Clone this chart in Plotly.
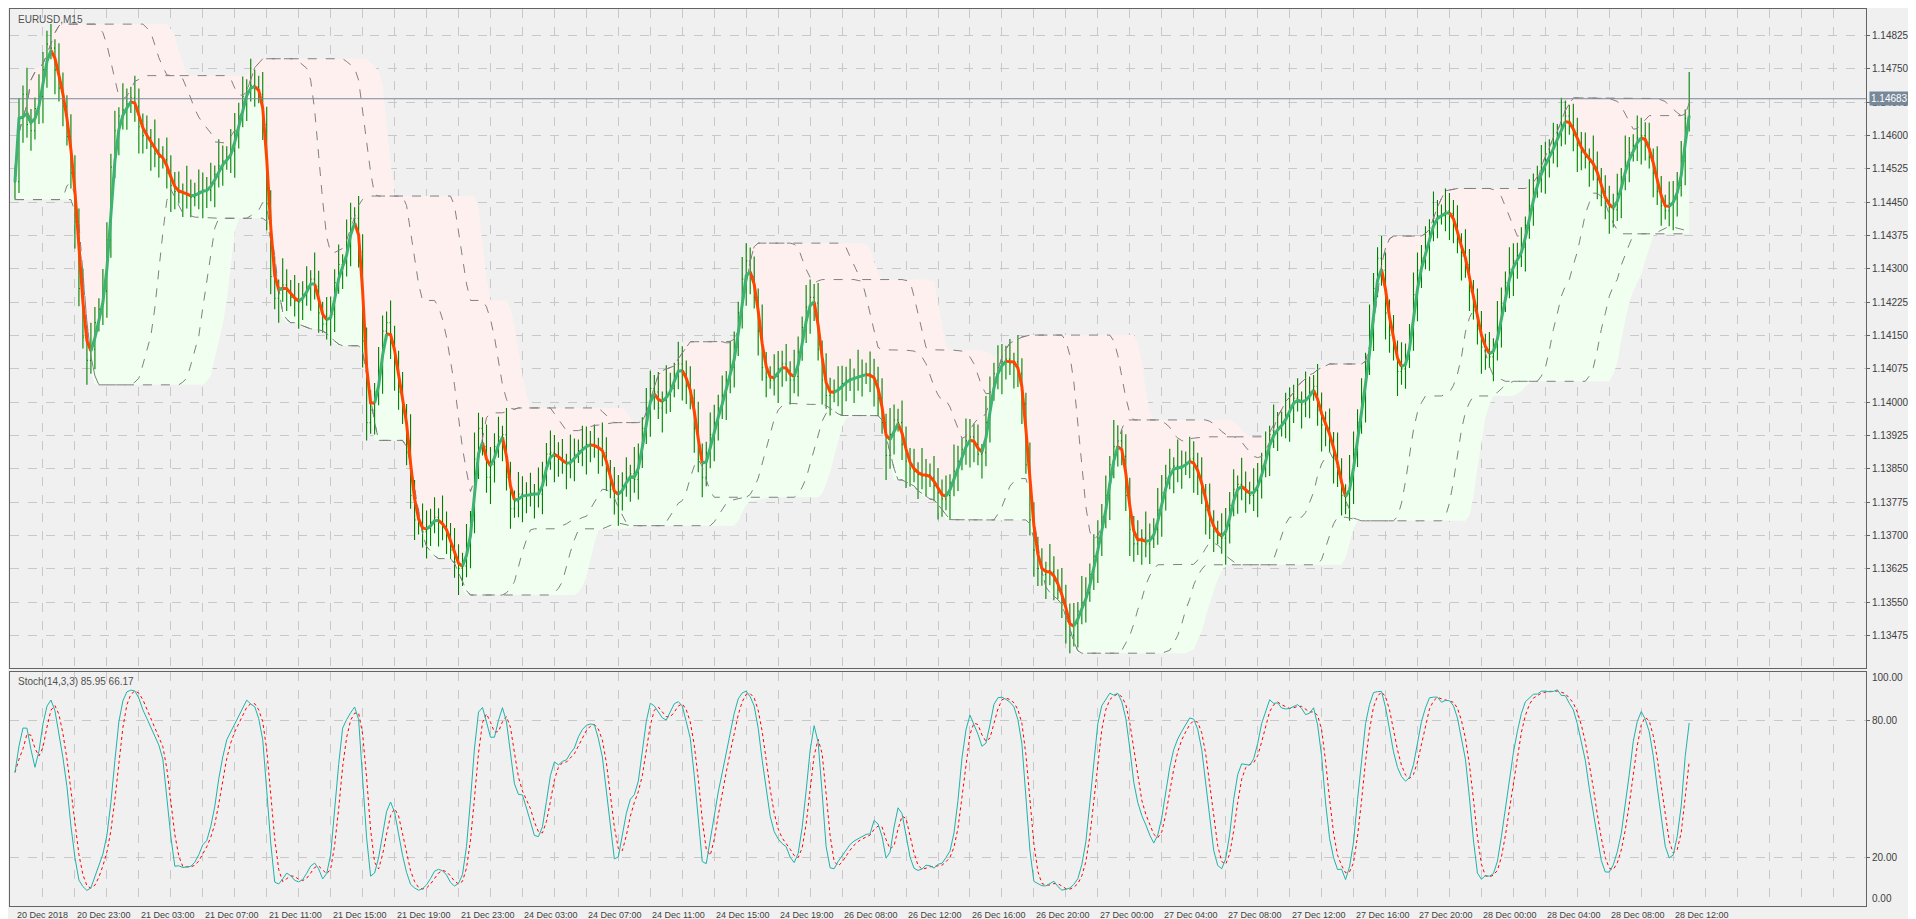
import numpy as np
import pandas as pd
import plotly.graph_objects as go

symbol_title = "EURUSD,M15"
stoch_title = "Stoch(14,3,3) 85.95 66.17"
last_price = 1.14683

# closes, in points above 1.13000
close_pts = [
1496,1639,1693,1625,1611,1661,1688,1748,1806,1797,
1748,1707,1666,1598,1516,1406,1256,1146,1094,1119,
1179,1209,1250,1365,1529,1611,1644,1658,1671,1685,
1666,1620,1600,1595,1576,1559,1551,1546,1516,1488,
1474,1472,1472,1466,1461,1469,1474,1477,1477,1494,
1513,1532,1543,1551,1565,1611,1644,1688,1707,1713,
1710,1693,1625,1447,1283,1234,1256,1264,1250,1236,
1228,1225,1242,1261,1277,1261,1201,1176,1187,1198,
1269,1310,1313,1351,1414,1414,1338,1138,954,982,
1023,1064,1160,1179,1132,1086,1023,976,913,790,
735,722,708,716,730,741,730,719,703,667,
640,626,631,681,735,872,941,900,831,859,
900,922,927,831,760,776,793,790,790,796,
793,793,831,883,886,880,872,864,859,867,
883,891,897,905,905,900,894,886,845,804,
782,796,812,831,839,826,872,941,982,1031,
1023,987,1004,1023,1031,1064,1086,1064,1036,1009,
941,872,831,886,927,954,987,1015,1050,1078,
1124,1201,1277,1318,1283,1236,1160,1078,1056,1050,
1058,1075,1086,1072,1050,1058,1113,1168,1214,1236,
1223,1119,1050,1015,1020,1026,1031,1042,1050,1053,
1056,1058,1061,1064,1058,1050,1009,954,880,927,
960,954,905,867,850,845,837,834,837,829,
812,796,782,790,818,845,867,894,913,922,
905,883,886,954,1023,1064,1078,1091,1097,1086,
1091,1064,996,859,735,667,626,612,621,618,
599,577,549,517,475,503,530,549,571,612,
653,694,741,790,859,900,913,878,790,714,
681,689,694,681,692,714,757,796,829,850,
856,850,856,864,872,856,831,796,757,722,
708,700,694,722,768,804,815,809,796,790,
801,823,856,889,927,935,943,954,971,993,
1009,1004,996,1009,1023,1036,982,949,941,913,
872,839,790,768,831,894,954,1009,1091,1160,
1256,1324,1297,1201,1151,1119,1069,1075,1097,1151,
1242,1297,1324,1351,1392,1414,1420,1420,1431,1425,
1398,1360,1329,1310,1250,1206,1165,1124,1113,1102,
1124,1168,1223,1269,1299,1318,1329,1349,1398,1442,
1480,1507,1529,1546,1562,1584,1606,1625,1644,1622,
1600,1578,1562,1551,1540,1529,1502,1461,1447,1439,
1433,1469,1507,1540,1562,1578,1595,1600,1584,1551,
1516,1474,1442,1431,1447,1458,1488,1543,1639,1683,
]
# typical bar extension beyond open/close, points (repeating pattern of bar sizes)
wick_up = [30, 45, 20, 60, 35, 25, 50, 40]
wick_dn = [40, 25, 55, 30, 45, 20, 35, 60]

time_labels = ["20 Dec 2018", "20 Dec 23:00", "21 Dec 03:00", "21 Dec 07:00", "21 Dec 11:00",
               "21 Dec 15:00", "21 Dec 19:00", "21 Dec 23:00", "24 Dec 03:00", "24 Dec 07:00",
               "24 Dec 11:00", "24 Dec 15:00", "24 Dec 19:00", "26 Dec 08:00", "26 Dec 12:00",
               "26 Dec 16:00", "26 Dec 20:00", "27 Dec 00:00", "27 Dec 04:00", "27 Dec 08:00",
               "27 Dec 12:00", "27 Dec 16:00", "27 Dec 20:00", "28 Dec 00:00", "28 Dec 04:00",
               "28 Dec 08:00", "28 Dec 12:00"]
label_bars = [0] + [15 + 16 * k for k in range(26)]

price_ticks = [1.13475 + 0.00075 * k for k in range(19)]

c = 1.13 + np.array(close_pts) / 1e5
N = len(c)
x = np.arange(N)
o = np.concatenate([[c[0]], c[:-1]])
wu = np.array([wick_up[i % len(wick_up)] for i in range(N)]) / 1e5
wd = np.array([wick_dn[i % len(wick_dn)] for i in range(N)]) / 1e5
h = np.maximum(o, c) + wu
l = np.minimum(o, c) - wd

s = pd.Series(c)
sm = ((3 * s + 2 * s.shift(1) + s.shift(2)) / 6).fillna(s).values

def band(arr, n, fn, smooth):
    rr = pd.Series(arr).rolling(n, min_periods=1)
    v = rr.max() if fn == "max" else rr.min()
    return v.rolling(smooth, min_periods=1).mean().values

up = band(h, 30, "max", 3)
lo = band(l, 30, "min", 3)
u1 = band(h, 12, "max", 4)
l1 = band(l, 12, "min", 4)
u2 = band(h, 24, "max", 4)
l2 = band(l, 24, "min", 4)

hh = pd.Series(h).rolling(14, min_periods=1).max()
ll = pd.Series(l).rolling(14, min_periods=1).min()
raw = (s - ll) / (hh - ll) * 100
k_line = raw.rolling(3, min_periods=1).mean()
d_line = k_line.rolling(3, min_periods=1).mean()

g = np.full(N, np.nan); r = np.full(N, np.nan)
for i in range(1, N):
    if sm[i] >= sm[i - 1]:
        g[i - 1] = sm[i - 1]; g[i] = sm[i]
    else:
        r[i - 1] = sm[i - 1]; r[i] = sm[i]

fig = go.Figure()
fig.add_trace(go.Scatter(x=x, y=lo, mode="lines", line=dict(width=0), hoverinfo="skip"))
fig.add_trace(go.Scatter(x=x, y=sm, mode="lines", line=dict(width=0), fill="tonexty",
                         fillcolor="#f0fff0", hoverinfo="skip"))
fig.add_trace(go.Scatter(x=x, y=up, mode="lines", line=dict(width=0), fill="tonexty",
                         fillcolor="#fff0f0", hoverinfo="skip"))
fig.add_trace(go.Ohlc(x=x, open=o, high=h, low=l, close=c, tickwidth=0.25, xaxis="x3", yaxis="y3",
                      increasing=dict(line=dict(color="#008000", width=1.1)),
                      decreasing=dict(line=dict(color="#008000", width=1.1))))
for arr in (u1, l1, u2, l2):
    fig.add_trace(go.Scatter(x=x, y=arr, mode="lines", xaxis="x3", yaxis="y3",
                             line=dict(color="#808080", width=1, dash="dash")))
fig.add_trace(go.Scatter(x=x, y=r, mode="lines", line=dict(color="#ff4500", width=3),
                         xaxis="x3", yaxis="y3"))
fig.add_trace(go.Scatter(x=x, y=g, mode="lines", line=dict(color="#3cb371", width=3),
                         xaxis="x3", yaxis="y3"))

fig.add_trace(go.Scatter(x=x, y=d_line, mode="lines", line=dict(color="#ff0000", width=1, dash="dot"),
                         xaxis="x2", yaxis="y2"))
fig.add_trace(go.Scatter(x=x, y=k_line, mode="lines", line=dict(color="#20b2aa", width=1),
                         xaxis="x2", yaxis="y2"))

grid_bars = list(range(7, 470, 8))
xr = [-1.25, 463.25]
yr = [1.13401, 1.14885]
common_x = dict(range=xr, tickvals=grid_bars, ticktext=[""] * len(grid_bars), showgrid=True,
                gridcolor="#c8c8c8", griddash="dash", zeroline=False, showline=True,
                linecolor="#646464", mirror=True, ticks="")
fig.update_layout(
    width=1916, height=919, showlegend=False, plot_bgcolor="#f0f0f0", paper_bgcolor="#f0f0f0",
    margin=dict(l=2, r=58, t=1, b=21),
    font=dict(family="Liberation Sans", size=10, color="#404040"),
    xaxis=dict(domain=[0, 1], anchor="y", rangeslider=dict(visible=False), **common_x),
    yaxis=dict(domain=[0.265, 1], range=yr, side="right", tickvals=price_ticks,
               ticktext=[f"{v:.5f}" for v in price_ticks], showgrid=True, gridcolor="#c8c8c8",
               griddash="dash", zeroline=False, showline=True, linecolor="#646464", mirror=True,
               ticks="outside", ticklen=3, tickcolor="#646464"),
    xaxis3=dict(overlaying="x", anchor="y3", range=xr, visible=False, rangeslider=dict(visible=False)),
    yaxis3=dict(overlaying="y", anchor="x3", range=yr, visible=False),
    xaxis2=dict(domain=[0, 1], anchor="y2", **common_x),
    yaxis2=dict(domain=[0, 0.2605], range=[-1.3, 100.9], side="right", tickvals=[20, 80],
                ticktext=["20.00", "80.00"], showgrid=True, gridcolor="#c8c8c8", griddash="dash",
                zeroline=False, showline=True, linecolor="#646464", mirror=True,
                ticks="outside", ticklen=3, tickcolor="#646464"),
)
fig.add_shape(type="line", xref="paper", yref="y", x0=0, x1=1, y0=last_price, y1=last_price,
              line=dict(color="#778899", width=1.2))
ann = [
    dict(text=symbol_title, x=0.003, y=0.997, xref="paper", yref="paper", xanchor="left", yanchor="top",
         showarrow=False, font=dict(size=10, color="#505050")),
    dict(text=stoch_title, x=0.003, y=0.2585, xref="paper", yref="paper", xanchor="left", yanchor="top",
         showarrow=False, font=dict(size=10, color="#505050")),
    dict(text=f"{last_price:.5f}", x=1.0, y=last_price, xref="paper", yref="y", xanchor="left",
         xshift=3, showarrow=False, bgcolor="#778899", font=dict(size=10, color="#ffffff"), borderpad=1),
    dict(text="100.00", x=1.0, y=98.5, xref="paper", yref="y2", xanchor="left", xshift=4,
         showarrow=False, font=dict(size=10, color="#404040")),
    dict(text="0.00", x=1.0, y=2.0, xref="paper", yref="y2", xanchor="left", xshift=4,
         showarrow=False, font=dict(size=10, color="#404040")),
]
for b, t in zip(label_bars, time_labels):
    ann.append(dict(text=t, x=b, y=0, xref="x2", yref="paper", xanchor="left", yanchor="top", yshift=-2,
                    showarrow=False, font=dict(size=9, color="#404040")))
fig.update_layout(annotations=ann)
fig.write_html("out.html")
